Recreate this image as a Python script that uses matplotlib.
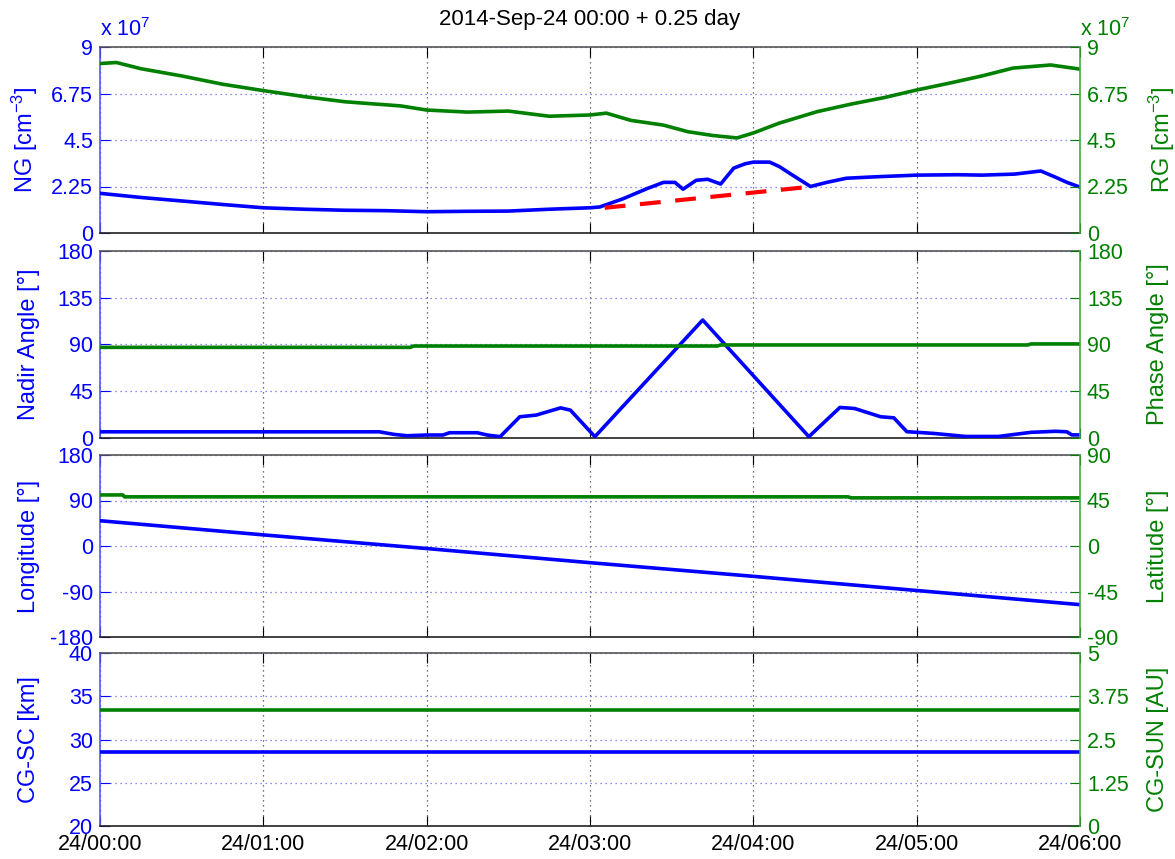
import numpy as np
import matplotlib
matplotlib.use('Agg')
from matplotlib import pyplot as plt

plt.rcParams['font.family'] = ['Liberation Sans', 'DejaVu Sans']
plt.rcParams['mathtext.fontset'] = 'custom'
plt.rcParams['mathtext.rm'] = 'Liberation Sans'
plt.rcParams['mathtext.it'] = 'Liberation Sans'

BLUE = '#0000ff'
GREEN = '#008000'

# time axis (hours after 2014-09-24 00:00)
x_ticks = [0, 1, 2, 3, 4, 5, 6]
x_labels = ['24/00:00', '24/01:00', '24/02:00', '24/03:00', '24/04:00', '24/05:00', '24/06:00']

# panel 1: NG / RG densities (x 1e7 cm^-3)
ng_t = [0.0, 0.25, 0.5, 0.75, 1.0, 1.25, 1.5, 1.75, 2.0, 2.25, 2.5, 2.75, 3.0, 3.06, 3.2, 3.35,
        3.45, 3.52, 3.57, 3.65, 3.72, 3.8, 3.88, 3.95, 4.0, 4.1, 4.16, 4.23, 4.35, 4.45, 4.57,
        4.75, 5.0, 5.25, 5.4, 5.6, 5.76, 5.85, 5.92, 6.0]
ng_v = [1.92, 1.72, 1.55, 1.38, 1.22, 1.15, 1.10, 1.08, 1.03, 1.05, 1.06, 1.15, 1.22, 1.26, 1.65, 2.15,
        2.45, 2.45, 2.12, 2.55, 2.6, 2.37, 3.14, 3.35, 3.43, 3.43, 3.21, 2.85, 2.25, 2.45, 2.65,
        2.72, 2.8, 2.82, 2.8, 2.85, 3.0, 2.7, 2.45, 2.22]
rg_t = [0.0, 0.1, 0.25, 0.5, 0.75, 1.0, 1.25, 1.5, 1.84, 2.0, 2.25, 2.5, 2.75, 3.0, 3.1, 3.25,
        3.45, 3.6, 3.75, 3.9, 4.0, 4.16, 4.39, 4.6, 4.8, 5.0, 5.2, 5.4, 5.59, 5.82, 6.0]
rg_v = [8.2, 8.25, 7.95, 7.6, 7.2, 6.89, 6.6, 6.35, 6.15, 5.95, 5.85, 5.9, 5.65, 5.71, 5.8, 5.45,
        5.22, 4.9, 4.72, 4.6, 4.84, 5.32, 5.87, 6.24, 6.55, 6.92, 7.25, 7.6, 7.98, 8.13, 7.93]
base_t = [3.09, 4.35]
base_v = [1.22, 2.24]

# panel 2: nadir / phase angle (deg)
nadir_t = [0.0, 0.5, 1.0, 1.5, 1.71, 1.8, 1.88, 2.0, 2.1, 2.14, 2.31, 2.37, 2.45, 2.57, 2.67,
           2.82, 2.88, 3.03, 3.69, 4.34, 4.53, 4.62, 4.78, 4.86, 4.94, 5.1, 5.3, 5.5, 5.7, 5.85,
           5.92, 5.95, 6.0]
nadir_v = [5.5, 5.5, 5.5, 5.5, 5.5, 3.0, 1.7, 2.4, 2.4, 4.6, 4.6, 2.4, 0.8, 20, 21.6,
           28.6, 26.4, 0.8, 113.4, 0.8, 29, 28, 20, 19, 5.6, 4, 1, 1, 5, 6,
           5.5, 2.5, 2.5]
phase_t = [0.0, 1.9, 1.92, 3.78, 3.8, 5.68, 5.7, 6.0]
phase_v = [87, 87, 88.3, 88.3, 89.3, 89.3, 90.3, 90.3]

# panel 3: longitude / latitude (deg)
lon_t = [0, 1, 2, 3, 4, 5, 6]
lon_v = [50, 22, -5, -33, -60, -88, -116]
lat_t = [0.0, 0.14, 0.15, 4.58, 4.6, 6.0]
lat_v = [50.5, 50.5, 48.6, 48.6, 47.6, 47.6]

# panel 4: distances
cgsc_t = [0, 6]
cgsc_v = [28.6, 28.6]
cgsun_t = [0, 6]
cgsun_v = [3.34, 3.34]

panels = [
    dict(lt=ng_t, lv=ng_v, rt=rg_t, rv=rg_v, llim=(0, 9), rlim=(0, 9),
         lticks=[0, 2.25, 4.5, 6.75, 9], rticks=[0, 2.25, 4.5, 6.75, 9],
         llab=r'NG [cm$^{-3}$]', rlab=r'RG [cm$^{-3}$]'),
    dict(lt=nadir_t, lv=nadir_v, rt=phase_t, rv=phase_v, llim=(0, 180), rlim=(0, 180),
         lticks=[0, 45, 90, 135, 180], rticks=[0, 45, 90, 135, 180],
         llab='Nadir Angle [°]', rlab='Phase Angle [°]'),
    dict(lt=lon_t, lv=lon_v, rt=lat_t, rv=lat_v, llim=(-180, 180), rlim=(-90, 90),
         lticks=[-180, -90, 0, 90, 180], rticks=[-90, -45, 0, 45, 90],
         llab='Longitude [°]', rlab='Latitude [°]'),
    dict(lt=cgsc_t, lv=cgsc_v, rt=cgsun_t, rv=cgsun_v, llim=(20, 40), rlim=(0, 5),
         lticks=[20, 25, 30, 35, 40], rticks=[0, 1.25, 2.5, 3.75, 5],
         llab='CG-SC [km]', rlab='CG-SUN [AU]'),
]

W, H = 1175, 859
boxes = [(47, 233), (251, 437.5), (455, 637), (653, 826)]
left, right = 100, 1080

fig = plt.figure(figsize=(W / 100, H / 100), dpi=100)

for i, (p, (top, bot)) in enumerate(zip(panels, boxes)):
    ax = fig.add_axes([left / W, 1 - bot / H, (right - left) / W, (bot - top) / H])
    ax2 = ax.twinx()

    ax.plot(p['lt'], p['lv'], color=BLUE, lw=2.6, zorder=3)
    ax2.plot(p['rt'], p['rv'], color=GREEN, lw=2.6, zorder=2)
    if i == 0:
        ax.plot(base_t, base_v, color='red', lw=3, ls=(0, (5, 3.5)), zorder=4)

    ax.set_xlim(0, 6)
    ax.set_ylim(*p['llim'])
    ax2.set_ylim(*p['rlim'])
    ax.set_yticks(p['lticks'])
    ax.set_yticklabels(['%g' % v for v in p['lticks']])
    ax2.set_yticks(p['rticks'])
    ax2.set_yticklabels(['%g' % v for v in p['rticks']])
    ax.set_xticks(x_ticks)
    if i == 3:
        ax.set_xticklabels(x_labels)
    else:
        ax.set_xticklabels([])

    ax.grid(axis='x', color='#444444', ls=(0, (1, 3)), lw=0.9)
    ax.grid(axis='y', color='#6666ff', ls=(0, (1, 3)), lw=0.9)

    ax.tick_params(axis='x', direction='in', top=True, bottom=True, length=7,
                   labelsize=15.5, colors='black', pad=6)
    ax.tick_params(axis='y', direction='in', length=7, labelsize=15.5,
                   colors=BLUE, pad=5)
    ax2.tick_params(axis='y', direction='in', length=7, labelsize=15.5,
                    colors=GREEN, pad=5)

    ax.spines['left'].set_color('#5555ff')
    ax.spines['right'].set_visible(False)
    ax.spines['top'].set_color('#555555')
    ax.spines['bottom'].set_color('#222222')
    ax2.spines['right'].set_color('#44aa44')
    ax2.spines['left'].set_visible(False)
    ax2.spines['top'].set_visible(False)
    ax2.spines['bottom'].set_visible(False)
    for s in list(ax.spines.values()) + list(ax2.spines.values()):
        s.set_linewidth(1.2)

    ax.set_ylabel(p['llab'], color=BLUE, fontsize=17)
    ax2.set_ylabel(p['rlab'], color=GREEN, fontsize=17)
    ax.yaxis.set_label_coords(-60 / (right - left), 0.5)
    ax2.yaxis.set_label_coords(1 + 67 / (right - left), 0.5)

    if i == 0:
        ax.text(0, 1.03, r'x 10$^7$', transform=ax.transAxes, color=BLUE,
                fontsize=15.5, ha='left', va='bottom')
        ax2.text(1, 1.03, r'x 10$^7$', transform=ax2.transAxes, color=GREEN,
                 fontsize=15.5, ha='left', va='bottom')
        ax.set_title('2014-Sep-24 00:00 + 0.25 day', fontsize=16, pad=16)

fig.savefig('out.png', dpi=100)
